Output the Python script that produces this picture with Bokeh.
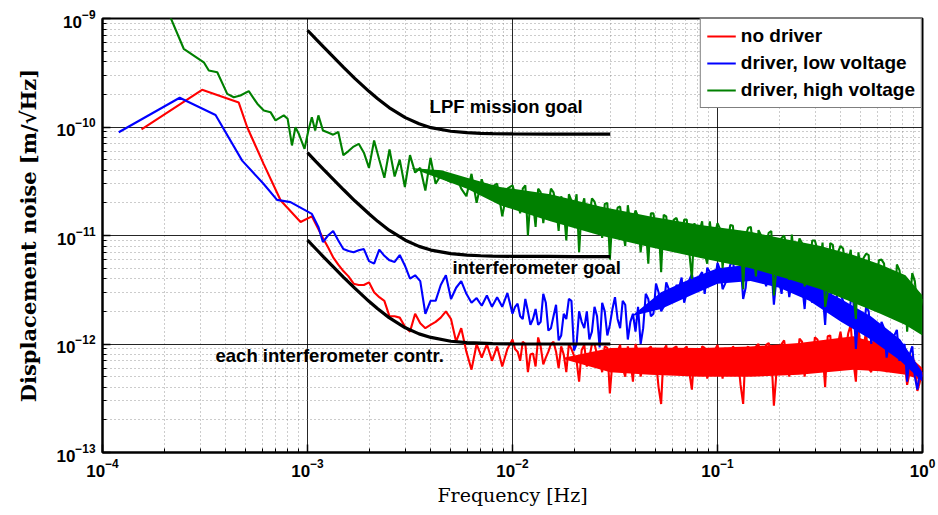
from bokeh.plotting import figure
from bokeh.models import Legend, LegendItem, FixedTicker, LogTickFormatter
from bokeh.embed import file_html
from bokeh.resources import INLINE
from bokeh.core.properties import value

# ---------------- data (spectra in pm/sqrt(Hz)) ----------------
F_GRID = [
    1.189e-3, 1.259e-3, 1.334e-3, 1.413e-3, 1.496e-3, 1.585e-3, 1.679e-3, 1.778e-3, 1.884e-3, 1.995e-3,
    2.113e-3, 2.239e-3, 2.371e-3, 2.512e-3, 2.661e-3, 2.818e-3, 2.985e-3, 3.162e-3, 3.350e-3, 3.548e-3,
    3.758e-3, 3.981e-3, 4.217e-3, 4.467e-3, 4.732e-3, 5.012e-3, 5.309e-3, 5.623e-3, 5.957e-3, 6.310e-3,
    6.683e-3, 7.079e-3, 7.499e-3, 7.943e-3, 8.414e-3, 8.913e-3, 9.441e-3,
    1.000e-2, 1.059e-2, 1.122e-2, 1.189e-2, 1.259e-2, 1.334e-2, 1.413e-2, 1.496e-2, 1.585e-2, 1.679e-2,
    1.778e-2, 1.884e-2, 1.995e-2, 2.113e-2, 2.239e-2, 2.371e-2, 2.512e-2, 2.661e-2, 2.818e-2, 2.985e-2,
    3.162e-2, 3.350e-2, 3.548e-2, 3.758e-2, 3.981e-2, 4.217e-2, 4.467e-2, 4.732e-2, 5.012e-2, 5.309e-2,
    5.623e-2, 5.957e-2, 6.310e-2, 6.683e-2, 7.079e-2, 7.499e-2, 7.943e-2, 8.414e-2, 8.913e-2, 9.441e-2,
    1.000e-1, 1.059e-1, 1.122e-1, 1.189e-1, 1.259e-1, 1.334e-1, 1.413e-1, 1.496e-1, 1.585e-1, 1.679e-1,
    1.778e-1, 1.884e-1, 1.995e-1, 2.113e-1, 2.239e-1, 2.371e-1, 2.512e-1, 2.661e-1, 2.818e-1, 2.985e-1,
    3.162e-1, 3.350e-1, 3.548e-1, 3.758e-1, 3.981e-1, 4.217e-1, 4.467e-1, 4.732e-1, 5.012e-1, 5.309e-1,
    5.623e-1, 5.957e-1, 6.310e-1, 6.683e-1, 7.079e-1, 7.499e-1, 7.943e-1, 8.414e-1, 8.913e-1, 9.441e-1,
    1.0,
]
# extra frequency bins between the ones above (dense part of the spectra)
F_HALF = [
    1.029e-2, 1.090e-2, 1.155e-2, 1.223e-2, 1.296e-2, 1.372e-2, 1.454e-2, 1.540e-2, 1.631e-2, 1.728e-2,
    1.830e-2, 1.939e-2, 2.054e-2, 2.175e-2, 2.304e-2, 2.441e-2, 2.585e-2, 2.738e-2, 2.901e-2, 3.073e-2,
    3.255e-2, 3.448e-2, 3.652e-2, 3.868e-2, 4.097e-2, 4.340e-2, 4.597e-2, 4.870e-2, 5.158e-2, 5.464e-2,
    5.788e-2, 6.131e-2, 6.494e-2, 6.879e-2, 7.286e-2, 7.718e-2, 8.175e-2, 8.660e-2, 9.173e-2, 9.716e-2,
    1.029e-1, 1.090e-1, 1.155e-1, 1.223e-1, 1.296e-1, 1.372e-1, 1.454e-1, 1.540e-1, 1.631e-1, 1.728e-1,
    1.830e-1, 1.939e-1, 2.054e-1, 2.175e-1, 2.304e-1, 2.441e-1, 2.585e-1, 2.738e-1, 2.901e-1, 3.073e-1,
    3.255e-1, 3.448e-1, 3.652e-1, 3.868e-1, 4.097e-1, 4.340e-1, 4.597e-1, 4.870e-1, 5.158e-1, 5.464e-1,
    5.788e-1, 6.131e-1, 6.494e-1, 6.879e-1, 7.286e-1, 7.718e-1, 8.175e-1, 8.660e-1, 9.173e-1, 9.716e-1,
]

# no driver
RED_LO_F = [1.55e-4, 3.06e-4, 4.62e-4, 5.08e-4, 6.1e-4, 7.4e-4, 9.25e-4, 1.05e-3]
RED_LO_V = [95, 220, 168, 99.5, 46, 21, 13.3, 15.0]
RED_V = [
    9.5, 7.8, 6.3, 5.4, 4.7, 4.2, 3.6, 3.5, 3.5, 3.7,
    3.0, 2.7, 2.5, 1.8, 1.8, 1.75, 1.45, 1.3, 1.9, 1.55,
    1.4, 1.5, 1.6, 1.75, 2.0, 1.7, 1.05, 1.4, 0.85, 0.58,
    1.0, 0.75, 1.0, 0.7, 0.95, 0.62, 0.9,
    1.1, 0.85, 1.05, 0.55, 0.82, 1.15, 0.65, 0.85,
    1.05, 0.6, 0.8, 1.0, 0.78, 0.45, 0.98, 0.75,
    1.0, 0.72, 0.95, 0.35, 0.72, 0.98, 0.5, 0.72,
    1.0, 0.5, 0.72, 0.95, 0.7, 0.28, 0.97, 0.72,
    0.95, 0.7, 0.95, 0.38, 0.7, 0.95, 0.48, 0.72,
    0.98, 0.48, 0.72, 0.95, 0.72, 0.28, 0.95, 0.7,
    1.0, 0.72, 1.02, 0.27, 0.75, 1.08, 0.5, 0.78,
    1.12, 0.5, 0.78, 1.15, 0.8, 0.4, 1.2, 0.8,
    1.3, 0.85, 1.5, 0.45, 0.85, 1.3, 0.55, 0.8,
    1.05, 0.55, 0.75, 0.95, 0.7, 0.42, 0.78, 0.37, 0.55,
]
RED_HALF = [
    0.9, 0.7, 1.0, 0.8, 0.62, 0.95, 0.75, 1.0,
    0.85, 0.95, 0.55, 0.9, 0.7, 0.88, 0.62, 1.0,
    0.8, 0.55, 0.92, 0.7, 0.85, 0.6, 0.95, 0.45,
    0.85, 0.65, 0.9, 0.72, 0.4, 0.88, 0.68, 0.92,
    0.7, 0.9, 0.55, 0.85, 0.68, 0.92, 0.6, 0.88,
    0.75, 0.92, 0.6, 0.88, 0.42, 0.9, 0.7, 0.95,
    0.65, 0.98, 0.8, 0.55, 1.0, 0.75, 0.95, 0.6,
    1.05, 0.8, 0.62, 1.1, 0.85, 1.18, 0.6, 1.0,
    0.9, 1.25, 0.7, 1.4, 0.95, 0.6, 1.2, 0.9,
    0.85, 1.0, 0.6, 0.9, 0.7, 0.55, 0.65, 0.45,
]
RED_ENV_F = [1.8e-2, 3e-2, 4.7e-2, 8.3e-2, 0.145, 0.25, 0.46, 0.62, 0.83, 1.0]
RED_ENV_LO = [0.72, 0.55, 0.52, 0.5, 0.5, 0.52, 0.58, 0.56, 0.52, 0.46]
RED_ENV_HI = [0.75, 0.92, 0.93, 0.92, 0.95, 1.02, 1.18, 1.0, 0.82, 0.6]

# driver, low voltage
BLUE_LO_F = [1.2e-4, 2.38e-4, 3.56e-4, 4.8e-4, 6.1e-4, 7.1e-4, 8.26e-4, 1.05e-3, 1.13e-3]
BLUE_LO_V = [89.5, 186, 129, 49, 30, 21.3, 20.3, 15.8, 12.0]
BLUE_V = [
    8.7, 10.0, 11.0, 9.0, 7.5, 7.2, 7.0, 7.3, 7.5, 5.8,
    5.5, 7.4, 6.5, 5.9, 5.7, 6.6, 5.3, 4.0, 4.3, 3.8,
    1.9, 2.5, 2.5, 3.5, 4.3, 2.6, 3.3, 3.8, 2.9, 2.4,
    2.65, 2.25, 2.8, 2.2, 2.7, 2.2, 2.95, 1.9, 2.35, 1.7,
    2.0, 1.7, 1.5, 2.9, 1.33, 1.8, 1.08, 1.9, 2.6, 0.87,
    2.0, 1.4, 1.1, 2.2, 0.93, 2.0, 1.5, 2.7, 1.4, 2.3,
    1.6, 1.3, 1.0, 2.9, 1.8, 3.6, 2.0, 3.7, 2.6, 3.5,
    4.1, 3.0, 4.4, 3.1, 4.6, 5.05, 3.9,
    5.6, 3.2, 4.3, 5.8, 4.4, 2.6, 6.0, 4.5,
    5.8, 4.2, 5.4, 2.3, 3.9, 5.2, 2.7, 3.7,
    4.4, 2.1, 3.2, 4.0, 2.9, 1.5, 3.4, 2.3,
    2.9, 1.9, 2.5, 0.9, 1.6, 2.2, 1.0, 1.4,
    1.6, 0.75, 1.05, 1.35, 0.9, 0.45, 0.95, 0.38, 0.5,
]
BLUE_HALF = [
    2.2, 1.8, 2.6, 1.5, 2.1, 1.6, 2.4, 1.4,
    2.3, 1.2, 1.7, 2.5, 1.0, 1.6, 2.0, 1.3,
    1.8, 2.4, 1.2, 2.1, 1.7, 2.5, 1.1, 1.9,
    2.2, 1.4, 2.6, 1.9, 3.0, 2.2, 3.2, 2.5,
    3.3, 2.4, 3.9, 3.4, 4.2, 2.9, 4.6, 3.8,
    4.8, 3.6, 5.4, 4.0, 5.6, 3.3, 5.2, 4.6,
    5.0, 3.4, 5.3, 4.1, 2.9, 4.6, 3.8, 4.9,
    3.6, 4.2, 2.4, 3.6, 3.0, 3.8, 2.0, 3.1,
    2.5, 1.6, 2.6, 2.0, 1.3, 2.0, 1.6, 1.1,
    1.4, 1.1, 1.2, 0.7, 1.0, 0.8, 0.5, 0.55,
]
BLUE_ENV_F = [3.8e-2, 5.3e-2, 7.4e-2, 0.1, 0.145, 0.2, 0.28, 0.4, 0.56, 0.78, 1.0]
BLUE_ENV_LO = [1.8, 2.1, 2.8, 3.6, 3.8, 3.3, 2.5, 1.6, 1.1, 0.7, 0.45]
BLUE_ENV_HI = [1.8, 3.0, 4.0, 5.0, 5.4, 4.8, 3.7, 2.6, 1.8, 1.1, 0.55]

# driver, high voltage
GREEN_LO_F = [2.12e-4, 2.49e-4, 3.12e-4, 3.3e-4, 3.63e-4, 4.06e-4, 4.37e-4, 4.71e-4, 5.17e-4,
              5.69e-4, 6.12e-4, 6.6e-4, 6.98e-4, 7.66e-4, 8.0e-4, 8.4e-4, 8.73e-4, 9.07e-4,
              9.67e-4, 1.01e-3, 1.05e-3, 1.09e-3, 1.13e-3]
GREEN_LO_V = [1080, 526, 395, 332, 320, 202, 188, 195, 214, 164, 142, 137, 115, 128, 119,
              67.6, 99.5, 86.5, 63, 93, 123, 93, 128]
GREEN_V = [
    93, 89, 85, 90, 55, 60, 66, 70, 58, 42,
    75, 50, 34, 62, 35, 50, 28, 55, 38, 42,
    26, 52, 30, 36, 33, 31, 35, 27, 23, 37,
    20, 33, 23, 28, 30, 15, 27,
    29, 21, 27, 10, 20, 27, 13, 19,
    25, 11, 18, 24, 17, 7.0, 22, 15,
    20.5, 14, 19.5, 6.0, 13, 18.5, 8.0, 12.5,
    17, 7.0, 12, 16, 11, 4.6, 15, 10,
    14.5, 9.5, 14, 4.0, 9.2, 13.5, 5.5, 8.5,
    13, 5.0, 8.5, 12.3, 8.0, 3.2, 11.8, 7.4,
    11.2, 7.0, 10.6, 2.8, 6.6, 10, 3.9, 6.0,
    9.4, 3.4, 6.0, 9.0, 5.5, 2.2, 8.5, 5.0,
    8.0, 4.8, 7.4, 1.7, 4.3, 6.8, 2.3, 3.9,
    6.0, 2.0, 3.8, 5.4, 3.2, 1.3, 4.5, 2.2, 2.6,
]
GREEN_HALF = [
    24, 16, 29, 22, 12, 25, 20, 27,
    19, 23, 9, 21, 24, 18, 12, 22,
    17, 9.5, 20, 15, 18, 11, 19, 14,
    15, 12, 5.5, 16, 13, 15.5, 8.5, 14,
    12, 14, 7, 13, 11, 6.8, 13.5, 10.5,
    11.5, 9.5, 12.5, 6, 11, 10, 12, 4.2,
    10, 8.5, 11, 5.0, 9.5, 8.0, 10.2, 7.0,
    8.5, 4.2, 9.0, 7.4, 8.6, 3.0, 8.2, 7.0,
    7.6, 5.6, 3.0, 7.0, 6.2, 6.6, 2.4, 5.9,
    5.5, 4.4, 1.8, 4.8, 4.2, 2.4, 3.8, 2.0,
]
GREEN_ENV_F = [3.2e-3, 4.5e-3, 6.0e-3, 8.7e-3, 1.53e-2, 2.68e-2, 4.71e-2, 8.26e-2, 0.145, 0.219,
               0.318, 0.46, 0.623, 0.826, 1.0]
GREEN_ENV_LO = [42, 33, 27, 19, 13.5, 10, 7.8, 6.2, 5.0, 4.0, 3.2, 2.4, 1.9, 1.5, 1.2]
GREEN_ENV_HI = [42, 40, 34, 28, 24, 18.5, 15, 12.5, 10.8, 9.2, 8.0, 6.6, 5.4, 4.3, 2.8]

# goal curves (m/sqrt(Hz))
GOAL_F = [1e-3, 1.1e-3, 1.2e-3, 1.3e-3, 1.5e-3, 1.7e-3, 2e-3, 2.2e-3, 2.5e-3, 3e-3,
          3.5e-3, 4e-3, 5e-3, 6e-3, 7e-3, 8e-3, 1e-2, 1.5e-2, 2e-2, 3e-2]
LPF_GOAL = [7.79e-10, 6.45e-10, 5.44e-10, 4.66e-10, 3.55e-10, 2.81e-10, 2.12e-10, 1.82e-10, 1.51e-10, 1.22e-10,
            1.07e-10, 9.86e-11, 9.14e-11, 8.87e-11, 8.75e-11, 8.69e-11, 8.63e-11, 8.61e-11, 8.6e-11, 8.6e-11]
IFO_GOAL = [5.80e-11, 4.80e-11, 4.05e-11, 3.47e-11, 2.64e-11, 2.09e-11, 1.58e-11, 1.35e-11, 1.12e-11, 9.05e-12,
            7.94e-12, 7.34e-12, 6.80e-12, 6.60e-12, 6.51e-12, 6.46e-12, 6.43e-12, 6.41e-12, 6.4e-12, 6.4e-12]
IFO_CONTR = [9.06e-12, 7.51e-12, 6.33e-12, 5.42e-12, 4.12e-12, 3.27e-12, 2.46e-12, 2.11e-12, 1.75e-12, 1.41e-12,
             1.24e-12, 1.15e-12, 1.06e-12, 1.03e-12, 1.02e-12, 1.01e-12, 1.0e-12, 1.0e-12, 1.0e-12, 1.0e-12]

LABEL_F = [3.94e-3, 5.09e-3, 3.56e-4]
LABEL_V = [1.55e-10, 5.07e-12, 7.8e-13]
LABEL_TXT = ["LPF mission goal", "interferometer goal", "each interferometer contr."]

SERIES_NAMES = ["no driver", "driver, low voltage", "driver, high voltage"]
X_TICKS = [1e-4, 1e-3, 1e-2, 1e-1, 1.0]
Y_TICKS = [1e-13, 1e-12, 1e-11, 1e-10, 1e-9]

PM = 1e-12


def pm(vals):
    return [v * PM for v in vals]


def spectrum(lo_f, lo_v, grid_v, half_v):
    """Join the low-frequency points with both sets of frequency bins, ordered by frequency."""
    pairs = sorted(zip(lo_f + F_GRID + F_HALF, lo_v + grid_v + half_v))
    return [f for f, _ in pairs], pm([v for _, v in pairs])


# ---------------- figure ----------------
p = figure(width=938, height=515, x_axis_type="log", y_axis_type="log",
           x_range=(1e-4, 1.0), y_range=(1e-13, 1e-9),
           output_backend="svg", toolbar_location=None,
           min_border_left=102, min_border_right=16, min_border_top=18, min_border_bottom=63,
           background_fill_color="white", border_fill_color="white")

x_minor = [m * t for t in X_TICKS[:-1] for m in range(2, 10)]
y_minor = [m * t for t in Y_TICKS[:-1] for m in range(2, 10)]
p.xaxis.ticker = FixedTicker(ticks=X_TICKS, minor_ticks=x_minor)
p.yaxis.ticker = FixedTicker(ticks=Y_TICKS, minor_ticks=y_minor)
p.xaxis.formatter = LogTickFormatter()
p.yaxis.formatter = LogTickFormatter()

for ax in (p.xaxis, p.yaxis):
    ax.major_label_text_font = "Liberation Sans"
    ax.major_label_text_font_style = "bold"
    ax.major_label_text_font_size = "17px"
    ax.major_label_text_color = "black"
    ax.axis_label_text_font = "DejaVu Serif"
    ax.axis_label_text_color = "black"
    ax.axis_line_width = 2
    ax.axis_line_color = "black"
    ax.major_tick_in = 8
    ax.major_tick_out = 0
    ax.minor_tick_in = 4
    ax.minor_tick_out = 0
    ax.major_tick_line_color = "black"
    ax.minor_tick_line_color = "black"
    ax.major_tick_line_width = 1.5

p.xaxis.axis_label = "Frequency [Hz]"
p.xaxis.axis_label_text_font_style = "normal"
p.xaxis.axis_label_text_font_size = "19px"
p.yaxis.axis_label = "Displacement noise [m/\u221aHz]"
p.yaxis.axis_label_text_font_style = "bold"
p.yaxis.axis_label_text_font_size = "21px"
p.xaxis.major_label_standoff = 6
p.yaxis.major_label_standoff = 7
p.xaxis.axis_label_standoff = 4
p.yaxis.axis_label_standoff = 12

for g in (p.xgrid, p.ygrid):
    g.grid_line_color = "black"
    g.grid_line_alpha = 0.85
    g.grid_line_width = 1
    g.minor_grid_line_color = "#808080"
    g.minor_grid_line_alpha = 0.8
    g.minor_grid_line_dash = "1 3"
    g.minor_grid_line_width = 1

p.outline_line_color = "black"
p.outline_line_width = 2

RED, BLUE, GREEN = "#ff0000", "#0000ff", "#008000"
LW = 2.1

rx, ry = spectrum(RED_LO_F, RED_LO_V, RED_V, RED_HALF)
bx, by = spectrum(BLUE_LO_F, BLUE_LO_V, BLUE_V, BLUE_HALF)
gx, gy = spectrum(GREEN_LO_F, GREEN_LO_V, GREEN_V, GREEN_HALF)

p.varea(x=RED_ENV_F, y1=pm(RED_ENV_LO), y2=pm(RED_ENV_HI), fill_color=RED)
r_red = p.line(rx, ry, line_color=RED, line_width=LW)

p.varea(x=BLUE_ENV_F, y1=pm(BLUE_ENV_LO), y2=pm(BLUE_ENV_HI), fill_color=BLUE)
r_blue = p.line(bx, by, line_color=BLUE, line_width=LW)

p.varea(x=GREEN_ENV_F, y1=pm(GREEN_ENV_LO), y2=pm(GREEN_ENV_HI), fill_color=GREEN)
r_green = p.line(gx, gy, line_color=GREEN, line_width=LW)

for curve in (LPF_GOAL, IFO_GOAL, IFO_CONTR):
    p.line(GOAL_F, curve, line_color="black", line_width=3.2)

p.text(x=LABEL_F, y=LABEL_V, text=LABEL_TXT, text_font=value("Liberation Sans"),
       text_font_style="bold", text_font_size=value("18.5px"), text_color="black",
       text_align="left", text_baseline="middle")

legend = Legend(items=[LegendItem(label=SERIES_NAMES[0], renderers=[r_red]),
                       LegendItem(label=SERIES_NAMES[1], renderers=[r_blue]),
                       LegendItem(label=SERIES_NAMES[2], renderers=[r_green])],
                location="top_right")
legend.margin = 0
legend.padding = 6
legend.spacing = 5
legend.glyph_width = 29
legend.glyph_height = 20
legend.label_height = 20
legend.label_standoff = 5
legend.label_text_font = "Liberation Sans"
legend.label_text_font_style = "bold"
legend.label_text_font_size = "19px"
legend.label_text_color = "black"
legend.border_line_color = "black"
legend.border_line_width = 1.5
legend.background_fill_color = "white"
legend.background_fill_alpha = 1.0
p.add_layout(legend)

open("out.html", "w").write(file_html(p, INLINE))
